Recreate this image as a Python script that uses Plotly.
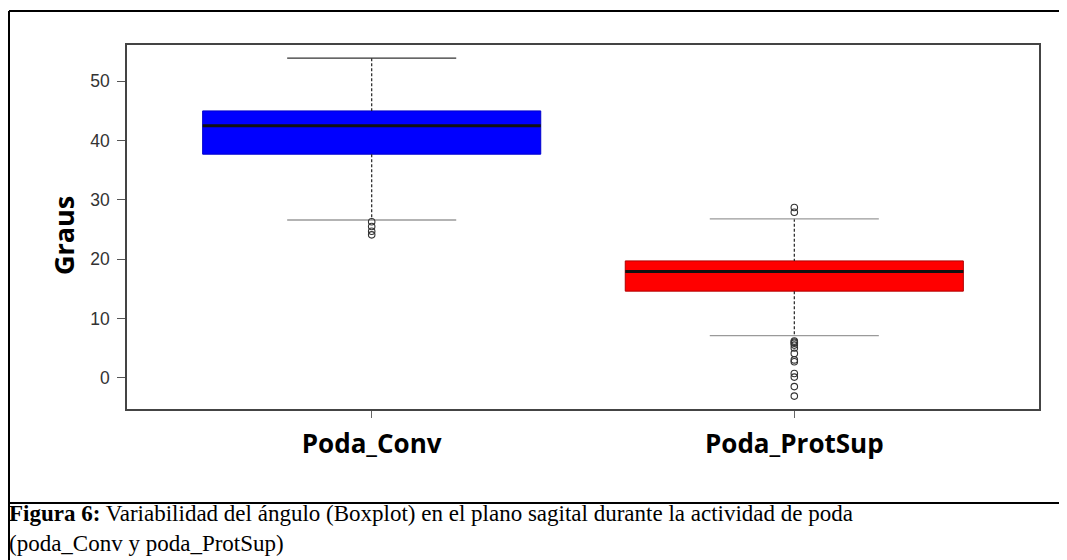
import plotly.graph_objects as go

# ---- data ----
categories = ["Poda_Conv", "Poda_ProtSup"]
q1 = [37.7, 14.6]
median = [42.5, 17.9]
q3 = [45.0, 19.7]
lower_whisker = [26.6, 7.1]
upper_whisker = [53.9, 26.8]
outliers_conv = [26.3, 25.5, 24.7, 24.1]
outliers_protsup = [28.7, 27.9, 6.2, 6.0, 5.8, 5.5, 5.0, 4.1, 3.0, 2.7, 0.7, 0.1, -1.5, -3.1]
box_colors = ["#0000FF", "#FF0000"]
box_edges = ["#0000CC", "#B00000"]
y_ticks = [0, 10, 20, 30, 40, 50]
caption = ("<b>Figura 6:</b> Variabilidad del ángulo (Boxplot) en el plano sagital durante la actividad de poda"
           "<br>(poda_Conv y poda_ProtSup)")

positions = list(range(len(categories)))
BOX_W = 0.8
CAP_HALF = 0.2

fig = go.Figure()

# whiskers (dashed), drawn first so the boxes cover them
for i, p in enumerate(positions):
    fig.add_trace(go.Scatter(
        x=[p, p, None, p, p],
        y=[upper_whisker[i], q3[i], None, q1[i], lower_whisker[i]],
        mode="lines", line=dict(color="#222222", width=1.2, dash="3px,2px"),
        hoverinfo="skip", showlegend=False))

# caps
cap_colors_upper = ["#333333", "#9A9A9A"]
for i, p in enumerate(positions):
    fig.add_trace(go.Scatter(
        x=[p - CAP_HALF, p + CAP_HALF], y=[upper_whisker[i]] * 2,
        mode="lines", line=dict(color=cap_colors_upper[i], width=1.3),
        hoverinfo="skip", showlegend=False))
    fig.add_trace(go.Scatter(
        x=[p - CAP_HALF, p + CAP_HALF], y=[lower_whisker[i]] * 2,
        mode="lines", line=dict(color="#9A9A9A", width=1.3),
        hoverinfo="skip", showlegend=False))

# boxes
fig.add_trace(go.Bar(
    x=positions, y=[q3[i] - q1[i] for i in positions], base=q1, width=BOX_W,
    marker=dict(color=box_colors, line=dict(color=box_edges, width=1)),
    hoverinfo="skip", showlegend=False))

# medians
for i, p in enumerate(positions):
    fig.add_trace(go.Scatter(
        x=[p - BOX_W / 2, p + BOX_W / 2], y=[median[i]] * 2,
        mode="lines", line=dict(color="#111111", width=3),
        hoverinfo="skip", showlegend=False))

# outliers
for p, vals in zip(positions, [outliers_conv, outliers_protsup]):
    fig.add_trace(go.Scatter(
        x=[p] * len(vals), y=vals, mode="markers",
        marker=dict(symbol="circle-open", size=6.5, color="#333333", line=dict(width=1.1)),
        hoverinfo="skip", showlegend=False))

OFF = 8  # page body margin
W, H = 1067 - OFF, 560 - OFF
L, T = 127 - OFF, 45 - OFF
R = W - (1039 - OFF)
B = H - (409 - OFF)
pw, ph = W - L - R, H - T - B

def px(sx):
    return (sx - OFF - L) / pw

def py(sy):
    return (H - B - (sy - OFF)) / ph

fig.update_layout(
    width=W, height=H,
    margin=dict(l=L, r=R, t=T, b=B),
    paper_bgcolor="white", plot_bgcolor="white",
    xaxis=dict(
        range=[-0.579, 1.579], tickvals=positions, ticktext=categories,
        showgrid=False, zeroline=False, showline=True, linecolor="#444444", linewidth=1.5,
        mirror=True, ticks="outside", ticklen=7, tickcolor="#666666",
        tickfont=dict(family="Open Sans", size=26, color="black", weight="bold"),
        ticklabelstandoff=4),
    yaxis=dict(
        range=[-5.28, 56.12], tickvals=y_ticks,
        showgrid=False, zeroline=False, showline=True, linecolor="#444444", linewidth=1.5,
        mirror=True, ticks="outside", ticklen=8, tickcolor="#555555",
        tickfont=dict(family="Liberation Sans", size=17.5, color="#333333"),
        ticklabelstandoff=4),
    font=dict(family="Liberation Sans"),
    annotations=[
        dict(text="<b>Graus</b>", xref="paper", yref="paper", x=px(64), y=py(235),
             showarrow=False, textangle=-90, xanchor="center", yanchor="middle",
             font=dict(family="Open Sans", size=27, color="black")),
        dict(text=caption, align="left",
             xref="paper", yref="paper", x=px(7), y=py(528), xanchor="left", yanchor="middle",
             showarrow=False, font=dict(family="Liberation Serif", size=23, color="black")),
    ],
    shapes=[
        dict(type="line", xref="paper", yref="paper", x0=px(9), x1=px(1070), y0=py(11), y1=py(11),
             line=dict(color="black", width=2)),
        dict(type="line", xref="paper", yref="paper", x0=px(9), x1=px(9), y0=py(11), y1=py(565),
             line=dict(color="black", width=2)),
        dict(type="line", xref="paper", yref="paper", x0=px(9), x1=px(1070), y0=py(503), y1=py(503),
             line=dict(color="black", width=2)),
    ],
)

fig.write_html("out.html")
